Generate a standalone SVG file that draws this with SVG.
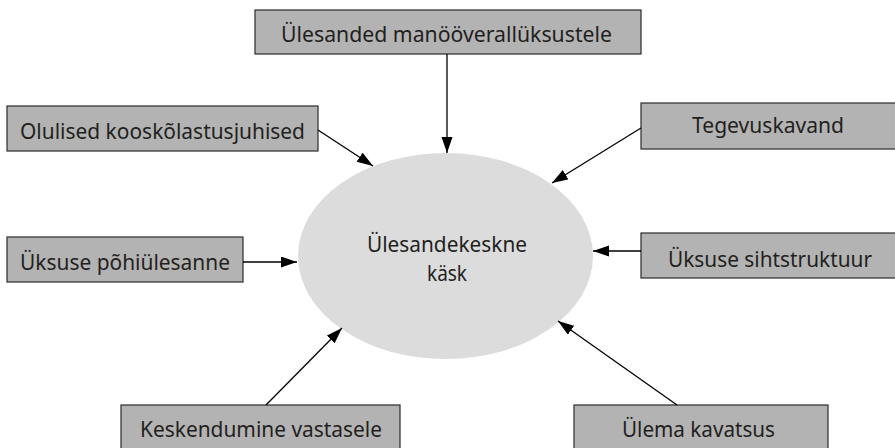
<svg xmlns="http://www.w3.org/2000/svg" width="895" height="448" viewBox="0 0 895 448">
<style>
.box{fill:#b3b3b3;stroke:#2b2b2b;stroke-width:1.2}
.lbl{font-family:"Noto Sans","Open Sans",sans-serif;font-size:22px;fill:#231f20;text-anchor:middle}
.con{stroke:#000;stroke-width:1.3;fill:none;marker-end:url(#ah)}
</style>
<defs>
<marker id="ah" markerUnits="userSpaceOnUse" markerWidth="16" markerHeight="12" refX="16" refY="5.5" orient="auto">
<path d="M0,0 L16,5.5 L0,11 z" fill="#000"/>
</marker>
</defs>
<rect width="895" height="448" fill="#fff"/>
<g id="center">
<ellipse cx="445.5" cy="256" rx="147.5" ry="103" fill="#dcdcdc"/>
<text class="lbl" x="447" y="252" textLength="160" lengthAdjust="spacingAndGlyphs">Ülesandekeskne</text>
<text class="lbl" x="447" y="281" textLength="40" lengthAdjust="spacingAndGlyphs">käsk</text>
</g>
<g id="n-top">
<rect class="box" x="255" y="10" width="386" height="44"/>
<text class="lbl" x="446.5" y="42" textLength="331" lengthAdjust="spacingAndGlyphs">Ülesanded manööverallüksustele</text>
</g>
<g id="n-olulised">
<rect class="box" x="7" y="106" width="311" height="45"/>
<text class="lbl" x="162.5" y="139" textLength="285" lengthAdjust="spacingAndGlyphs">Olulised kooskõlastusjuhised</text>
</g>
<g id="n-pohi">
<rect class="box" x="7" y="237" width="236" height="45"/>
<text class="lbl" x="125" y="270" textLength="210" lengthAdjust="spacingAndGlyphs">Üksuse põhiülesanne</text>
</g>
<g id="n-tegevus">
<rect class="box" x="641" y="103" width="260" height="46"/>
<text class="lbl" x="768" y="133" textLength="152" lengthAdjust="spacingAndGlyphs">Tegevuskavand</text>
</g>
<g id="n-siht">
<rect class="box" x="641" y="233" width="260" height="45"/>
<text class="lbl" x="770" y="267" textLength="204" lengthAdjust="spacingAndGlyphs">Üksuse sihtstruktuur</text>
</g>
<g id="n-keskendumine">
<rect class="box" x="121" y="405" width="279" height="50"/>
<text class="lbl" x="261" y="437" textLength="242" lengthAdjust="spacingAndGlyphs">Keskendumine vastasele</text>
</g>
<g id="n-ulema">
<rect class="box" x="574" y="405" width="254" height="50"/>
<text class="lbl" x="698.5" y="437" textLength="153" lengthAdjust="spacingAndGlyphs">Ülema kavatsus</text>
</g>
<g id="connectors">
<line class="con" x1="447" y1="54" x2="447" y2="153"/>
<line class="con" x1="318" y1="130" x2="373" y2="166"/>
<line class="con" x1="243" y1="262" x2="297" y2="262"/>
<line class="con" x1="641" y1="128" x2="552" y2="183"/>
<line class="con" x1="641" y1="251" x2="593" y2="251"/>
<line class="con" x1="266" y1="405" x2="342" y2="328"/>
<line class="con" x1="677" y1="405" x2="558" y2="321"/>
</g>
</svg>
